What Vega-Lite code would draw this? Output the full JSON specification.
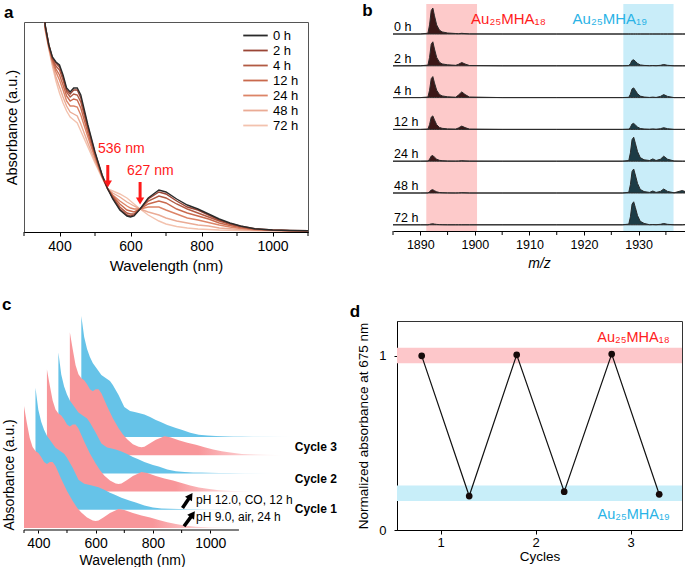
{
"$schema": "https://vega.github.io/schema/vega-lite/v6.json",
"background": "white",
"padding": {"left": 2, "top": 2, "right": 0, "bottom": 0},
"spacing": 21,
"config": {
  "font": "Liberation Sans",
  "view": {"stroke": null},
  "axis": {"grid": false, "domainColor": "#000", "tickColor": "#000", "labelColor": "#000", "titleColor": "#000", "titleFontWeight": "normal", "labelFont": "Liberation Sans", "titleFont": "Liberation Sans"},
  "title": {"font": "Liberation Sans", "fontWeight": "bold", "fontSize": 17, "anchor": "start", "color": "#000"}
},
"datasets": {
  "specA": [
{"t":"72 h","w":350,"a":240},{"t":"72 h","w":360,"a":200},{"t":"72 h","w":370,"a":182},{"t":"72 h","w":380,"a":165},{"t":"72 h","w":390,"a":150},{"t":"72 h","w":400,"a":138},{"t":"72 h","w":410,"a":128},{"t":"72 h","w":420,"a":120},{"t":"72 h","w":430,"a":114},{"t":"72 h","w":440,"a":111},{"t":"72 h","w":450,"a":108},{"t":"72 h","w":460,"a":100},{"t":"72 h","w":480,"a":84},{"t":"72 h","w":500,"a":68},{"t":"72 h","w":520,"a":53},{"t":"72 h","w":536,"a":42},{"t":"72 h","w":550,"a":40},{"t":"72 h","w":570,"a":37},{"t":"72 h","w":590,"a":33},{"t":"72 h","w":600,"a":30},{"t":"72 h","w":610,"a":27},{"t":"72 h","w":627,"a":22},{"t":"72 h","w":650,"a":16},{"t":"72 h","w":680,"a":10},{"t":"72 h","w":700,"a":7},{"t":"72 h","w":730,"a":4.5},{"t":"72 h","w":760,"a":3},{"t":"72 h","w":790,"a":2},{"t":"72 h","w":820,"a":1.5},{"t":"72 h","w":850,"a":1},{"t":"72 h","w":880,"a":0.8},{"t":"72 h","w":910,"a":0.5},{"t":"72 h","w":950,"a":0.3},{"t":"72 h","w":1000,"a":0.2},{"t":"72 h","w":1050,"a":0.2},{"t":"72 h","w":1100,"a":0.3},
{"t":"48 h","w":350,"a":242},{"t":"48 h","w":360,"a":201},{"t":"48 h","w":370,"a":183},{"t":"48 h","w":380,"a":167},{"t":"48 h","w":390,"a":154},{"t":"48 h","w":400,"a":144},{"t":"48 h","w":410,"a":134},{"t":"48 h","w":420,"a":125},{"t":"48 h","w":430,"a":119},{"t":"48 h","w":440,"a":117},{"t":"48 h","w":450,"a":115},{"t":"48 h","w":460,"a":107},{"t":"48 h","w":480,"a":88},{"t":"48 h","w":500,"a":70},{"t":"48 h","w":520,"a":54},{"t":"48 h","w":536,"a":42},{"t":"48 h","w":550,"a":38},{"t":"48 h","w":570,"a":34},{"t":"48 h","w":590,"a":29},{"t":"48 h","w":600,"a":27},{"t":"48 h","w":610,"a":25},{"t":"48 h","w":627,"a":22},{"t":"48 h","w":650,"a":19},{"t":"48 h","w":680,"a":16},{"t":"48 h","w":700,"a":13},{"t":"48 h","w":730,"a":10},{"t":"48 h","w":760,"a":8},{"t":"48 h","w":790,"a":6},{"t":"48 h","w":820,"a":5},{"t":"48 h","w":850,"a":3},{"t":"48 h","w":880,"a":2.2},{"t":"48 h","w":910,"a":1.4},{"t":"48 h","w":950,"a":0.7},{"t":"48 h","w":1000,"a":0.4},{"t":"48 h","w":1050,"a":0.3},{"t":"48 h","w":1100,"a":0.3},
{"t":"24 h","w":350,"a":244},{"t":"24 h","w":360,"a":202},{"t":"24 h","w":370,"a":184},{"t":"24 h","w":380,"a":169},{"t":"24 h","w":390,"a":159},{"t":"24 h","w":400,"a":151},{"t":"24 h","w":410,"a":141},{"t":"24 h","w":420,"a":130},{"t":"24 h","w":430,"a":125},{"t":"24 h","w":440,"a":125},{"t":"24 h","w":450,"a":124},{"t":"24 h","w":460,"a":116},{"t":"24 h","w":480,"a":94},{"t":"24 h","w":500,"a":73},{"t":"24 h","w":520,"a":54},{"t":"24 h","w":536,"a":42},{"t":"24 h","w":550,"a":36},{"t":"24 h","w":570,"a":30},{"t":"24 h","w":590,"a":25},{"t":"24 h","w":600,"a":23},{"t":"24 h","w":610,"a":22},{"t":"24 h","w":627,"a":22},{"t":"24 h","w":650,"a":24},{"t":"24 h","w":680,"a":24},{"t":"24 h","w":700,"a":21},{"t":"24 h","w":730,"a":17},{"t":"24 h","w":760,"a":13},{"t":"24 h","w":790,"a":11},{"t":"24 h","w":820,"a":8.5},{"t":"24 h","w":850,"a":6},{"t":"24 h","w":880,"a":4},{"t":"24 h","w":910,"a":2.5},{"t":"24 h","w":950,"a":1.2},{"t":"24 h","w":1000,"a":0.6},{"t":"24 h","w":1050,"a":0.3},{"t":"24 h","w":1100,"a":0.3},
{"t":"12 h","w":350,"a":246},{"t":"12 h","w":360,"a":203},{"t":"12 h","w":370,"a":185},{"t":"12 h","w":380,"a":171},{"t":"12 h","w":390,"a":162},{"t":"12 h","w":400,"a":156},{"t":"12 h","w":410,"a":146},{"t":"12 h","w":420,"a":135},{"t":"12 h","w":430,"a":130},{"t":"12 h","w":440,"a":132},{"t":"12 h","w":450,"a":131},{"t":"12 h","w":460,"a":123},{"t":"12 h","w":480,"a":98},{"t":"12 h","w":500,"a":75},{"t":"12 h","w":520,"a":55},{"t":"12 h","w":536,"a":42},{"t":"12 h","w":550,"a":35},{"t":"12 h","w":570,"a":27},{"t":"12 h","w":590,"a":21},{"t":"12 h","w":600,"a":20},{"t":"12 h","w":610,"a":19},{"t":"12 h","w":627,"a":22},{"t":"12 h","w":650,"a":27},{"t":"12 h","w":680,"a":30},{"t":"12 h","w":700,"a":28},{"t":"12 h","w":730,"a":22},{"t":"12 h","w":760,"a":18},{"t":"12 h","w":790,"a":15},{"t":"12 h","w":820,"a":12},{"t":"12 h","w":850,"a":8},{"t":"12 h","w":880,"a":5.5},{"t":"12 h","w":910,"a":3.4},{"t":"12 h","w":950,"a":1.6},{"t":"12 h","w":1000,"a":0.8},{"t":"12 h","w":1050,"a":0.4},{"t":"12 h","w":1100,"a":0.3},
{"t":"4 h","w":350,"a":248},{"t":"4 h","w":360,"a":204},{"t":"4 h","w":370,"a":185},{"t":"4 h","w":380,"a":172},{"t":"4 h","w":390,"a":165},{"t":"4 h","w":400,"a":161},{"t":"4 h","w":410,"a":151},{"t":"4 h","w":420,"a":139},{"t":"4 h","w":430,"a":134},{"t":"4 h","w":440,"a":137},{"t":"4 h","w":450,"a":136},{"t":"4 h","w":460,"a":129},{"t":"4 h","w":480,"a":102},{"t":"4 h","w":500,"a":77},{"t":"4 h","w":520,"a":55},{"t":"4 h","w":536,"a":42},{"t":"4 h","w":550,"a":34},{"t":"4 h","w":570,"a":24},{"t":"4 h","w":590,"a":18},{"t":"4 h","w":600,"a":17},{"t":"4 h","w":610,"a":17},{"t":"4 h","w":627,"a":22},{"t":"4 h","w":650,"a":30},{"t":"4 h","w":680,"a":35},{"t":"4 h","w":700,"a":33},{"t":"4 h","w":730,"a":27},{"t":"4 h","w":760,"a":22},{"t":"4 h","w":790,"a":18},{"t":"4 h","w":820,"a":14},{"t":"4 h","w":850,"a":10},{"t":"4 h","w":880,"a":6.6},{"t":"4 h","w":910,"a":4.1},{"t":"4 h","w":950,"a":1.9},{"t":"4 h","w":1000,"a":0.9},{"t":"4 h","w":1050,"a":0.4},{"t":"4 h","w":1100,"a":0.3},
{"t":"2 h","w":350,"a":249},{"t":"2 h","w":360,"a":205},{"t":"2 h","w":370,"a":186},{"t":"2 h","w":380,"a":173},{"t":"2 h","w":390,"a":168},{"t":"2 h","w":400,"a":164},{"t":"2 h","w":410,"a":154},{"t":"2 h","w":420,"a":141},{"t":"2 h","w":430,"a":137},{"t":"2 h","w":440,"a":141},{"t":"2 h","w":450,"a":141},{"t":"2 h","w":460,"a":133},{"t":"2 h","w":480,"a":104},{"t":"2 h","w":500,"a":78},{"t":"2 h","w":520,"a":56},{"t":"2 h","w":536,"a":42},{"t":"2 h","w":550,"a":33},{"t":"2 h","w":570,"a":22},{"t":"2 h","w":590,"a":16},{"t":"2 h","w":600,"a":15},{"t":"2 h","w":610,"a":16},{"t":"2 h","w":627,"a":22},{"t":"2 h","w":650,"a":32},{"t":"2 h","w":680,"a":39},{"t":"2 h","w":700,"a":37},{"t":"2 h","w":730,"a":30},{"t":"2 h","w":760,"a":24},{"t":"2 h","w":790,"a":21},{"t":"2 h","w":820,"a":16},{"t":"2 h","w":850,"a":11},{"t":"2 h","w":880,"a":7.5},{"t":"2 h","w":910,"a":4.7},{"t":"2 h","w":950,"a":2.2},{"t":"2 h","w":1000,"a":1},{"t":"2 h","w":1050,"a":0.5},{"t":"2 h","w":1100,"a":0.3},
{"t":"0 h","w":350,"a":250},{"t":"0 h","w":360,"a":205},{"t":"0 h","w":370,"a":186},{"t":"0 h","w":380,"a":174},{"t":"0 h","w":390,"a":169},{"t":"0 h","w":400,"a":166},{"t":"0 h","w":410,"a":156},{"t":"0 h","w":420,"a":143},{"t":"0 h","w":430,"a":139},{"t":"0 h","w":440,"a":143},{"t":"0 h","w":450,"a":143},{"t":"0 h","w":460,"a":136},{"t":"0 h","w":480,"a":106},{"t":"0 h","w":500,"a":79},{"t":"0 h","w":520,"a":56},{"t":"0 h","w":536,"a":42},{"t":"0 h","w":550,"a":32},{"t":"0 h","w":570,"a":21},{"t":"0 h","w":590,"a":15},{"t":"0 h","w":600,"a":14},{"t":"0 h","w":610,"a":15},{"t":"0 h","w":627,"a":22},{"t":"0 h","w":650,"a":33},{"t":"0 h","w":680,"a":41},{"t":"0 h","w":700,"a":39},{"t":"0 h","w":730,"a":32},{"t":"0 h","w":760,"a":26},{"t":"0 h","w":790,"a":22},{"t":"0 h","w":820,"a":17},{"t":"0 h","w":850,"a":12},{"t":"0 h","w":880,"a":8},{"t":"0 h","w":910,"a":5},{"t":"0 h","w":950,"a":2.3},{"t":"0 h","w":1000,"a":1},{"t":"0 h","w":1050,"a":0.5},{"t":"0 h","w":1100,"a":0.3}
  ],
  "ms": [
{"t":"0 h","m":1885,"i":0},{"t":"0 h","m":1890,"i":0},{"t":"0 h","m":1891.4,"i":0.8},{"t":"0 h","m":1891.7,"i":9.1},{"t":"0 h","m":1892,"i":23.4},{"t":"0 h","m":1892.3,"i":26},{"t":"0 h","m":1892.6,"i":18.2},{"t":"0 h","m":1893,"i":9.1},{"t":"0 h","m":1893.5,"i":3.9},{"t":"0 h","m":1894,"i":2.1},{"t":"0 h","m":1895,"i":1},{"t":"0 h","m":1896.5,"i":0.5},{"t":"0 h","m":1897,"i":0.3},{"t":"0 h","m":1897.6,"i":0.7},{"t":"0 h","m":1898.2,"i":0.4},{"t":"0 h","m":1899,"i":0.1},{"t":"0 h","m":1905,"i":0},{"t":"0 h","m":1915,"i":0},{"t":"0 h","m":1927,"i":0},{"t":"0 h","m":1928.2,"i":0},{"t":"0 h","m":1928.5,"i":0},{"t":"0 h","m":1928.8,"i":0},{"t":"0 h","m":1929.1,"i":0},{"t":"0 h","m":1929.4,"i":0},{"t":"0 h","m":1929.8,"i":0},{"t":"0 h","m":1930.3,"i":0},{"t":"0 h","m":1931,"i":0},{"t":"0 h","m":1932,"i":0},{"t":"0 h","m":1932.6,"i":0},{"t":"0 h","m":1933.2,"i":0},{"t":"0 h","m":1934,"i":0},{"t":"0 h","m":1934.6,"i":0},{"t":"0 h","m":1935.3,"i":0},{"t":"0 h","m":1936.5,"i":0},{"t":"0 h","m":1938,"i":0},{"t":"0 h","m":1938.5,"i":0},
{"t":"2 h","m":1885,"i":0},{"t":"2 h","m":1890,"i":0},{"t":"2 h","m":1891.4,"i":0.7},{"t":"2 h","m":1891.7,"i":8.4},{"t":"2 h","m":1892,"i":21.6},{"t":"2 h","m":1892.3,"i":24},{"t":"2 h","m":1892.6,"i":16.8},{"t":"2 h","m":1893,"i":8.4},{"t":"2 h","m":1893.5,"i":3.6},{"t":"2 h","m":1894,"i":1.9},{"t":"2 h","m":1895,"i":1},{"t":"2 h","m":1896.5,"i":0.5},{"t":"2 h","m":1897,"i":1.5},{"t":"2 h","m":1897.6,"i":3.3},{"t":"2 h","m":1898.2,"i":1.8},{"t":"2 h","m":1899,"i":0.3},{"t":"2 h","m":1905,"i":0},{"t":"2 h","m":1915,"i":0},{"t":"2 h","m":1927,"i":0},{"t":"2 h","m":1928.2,"i":0.2},{"t":"2 h","m":1928.5,"i":2.1},{"t":"2 h","m":1928.8,"i":5.4},{"t":"2 h","m":1929.1,"i":6},{"t":"2 h","m":1929.4,"i":4.5},{"t":"2 h","m":1929.8,"i":2.4},{"t":"2 h","m":1930.3,"i":0.9},{"t":"2 h","m":1931,"i":0.4},{"t":"2 h","m":1932,"i":0.1},{"t":"2 h","m":1932.6,"i":0.3},{"t":"2 h","m":1933.2,"i":0.1},{"t":"2 h","m":1934,"i":0.5},{"t":"2 h","m":1934.6,"i":1.3},{"t":"2 h","m":1935.3,"i":0.5},{"t":"2 h","m":1936.5,"i":0},{"t":"2 h","m":1938,"i":0},{"t":"2 h","m":1938.5,"i":0},
{"t":"4 h","m":1885,"i":0},{"t":"4 h","m":1890,"i":0},{"t":"4 h","m":1891.4,"i":0.6},{"t":"4 h","m":1891.7,"i":7.4},{"t":"4 h","m":1892,"i":18.9},{"t":"4 h","m":1892.3,"i":21},{"t":"4 h","m":1892.6,"i":14.7},{"t":"4 h","m":1893,"i":7.4},{"t":"4 h","m":1893.5,"i":3.2},{"t":"4 h","m":1894,"i":1.7},{"t":"4 h","m":1895,"i":0.8},{"t":"4 h","m":1896.5,"i":0.4},{"t":"4 h","m":1897,"i":2.6},{"t":"4 h","m":1897.6,"i":5.7},{"t":"4 h","m":1898.2,"i":3.1},{"t":"4 h","m":1899,"i":0.6},{"t":"4 h","m":1905,"i":0},{"t":"4 h","m":1915,"i":0},{"t":"4 h","m":1927,"i":0},{"t":"4 h","m":1928.2,"i":0.3},{"t":"4 h","m":1928.5,"i":3.4},{"t":"4 h","m":1928.8,"i":8.7},{"t":"4 h","m":1929.1,"i":9.7},{"t":"4 h","m":1929.4,"i":7.3},{"t":"4 h","m":1929.8,"i":3.9},{"t":"4 h","m":1930.3,"i":1.5},{"t":"4 h","m":1931,"i":0.6},{"t":"4 h","m":1932,"i":0.15},{"t":"4 h","m":1932.6,"i":0.5},{"t":"4 h","m":1933.2,"i":0.15},{"t":"4 h","m":1934,"i":1.2},{"t":"4 h","m":1934.6,"i":3},{"t":"4 h","m":1935.3,"i":1.2},{"t":"4 h","m":1936.5,"i":0},{"t":"4 h","m":1938,"i":0},{"t":"4 h","m":1938.5,"i":0},
{"t":"12 h","m":1885,"i":0},{"t":"12 h","m":1890,"i":0},{"t":"12 h","m":1891.4,"i":0.4},{"t":"12 h","m":1891.7,"i":4.7},{"t":"12 h","m":1892,"i":12.2},{"t":"12 h","m":1892.3,"i":13.5},{"t":"12 h","m":1892.6,"i":9.5},{"t":"12 h","m":1893,"i":4.7},{"t":"12 h","m":1893.5,"i":2},{"t":"12 h","m":1894,"i":1.1},{"t":"12 h","m":1895,"i":0.5},{"t":"12 h","m":1896.5,"i":0.3},{"t":"12 h","m":1897,"i":1.5},{"t":"12 h","m":1897.6,"i":3.3},{"t":"12 h","m":1898.2,"i":1.8},{"t":"12 h","m":1899,"i":0.3},{"t":"12 h","m":1905,"i":0},{"t":"12 h","m":1915,"i":0},{"t":"12 h","m":1927,"i":0},{"t":"12 h","m":1928.2,"i":0.2},{"t":"12 h","m":1928.5,"i":2.1},{"t":"12 h","m":1928.8,"i":5.4},{"t":"12 h","m":1929.1,"i":6},{"t":"12 h","m":1929.4,"i":4.5},{"t":"12 h","m":1929.8,"i":2.4},{"t":"12 h","m":1930.3,"i":0.9},{"t":"12 h","m":1931,"i":0.4},{"t":"12 h","m":1932,"i":0.15},{"t":"12 h","m":1932.6,"i":0.5},{"t":"12 h","m":1933.2,"i":0.15},{"t":"12 h","m":1934,"i":0.7},{"t":"12 h","m":1934.6,"i":1.7},{"t":"12 h","m":1935.3,"i":0.7},{"t":"12 h","m":1936.5,"i":0},{"t":"12 h","m":1938,"i":0},{"t":"12 h","m":1938.5,"i":0},
{"t":"24 h","m":1885,"i":0},{"t":"24 h","m":1890,"i":0},{"t":"24 h","m":1891.4,"i":0.2},{"t":"24 h","m":1891.7,"i":2},{"t":"24 h","m":1892,"i":5.1},{"t":"24 h","m":1892.3,"i":5.7},{"t":"24 h","m":1892.6,"i":4},{"t":"24 h","m":1893,"i":2},{"t":"24 h","m":1893.5,"i":0.9},{"t":"24 h","m":1894,"i":0.5},{"t":"24 h","m":1895,"i":0.2},{"t":"24 h","m":1896.5,"i":0.1},{"t":"24 h","m":1897,"i":0.2},{"t":"24 h","m":1897.6,"i":0.5},{"t":"24 h","m":1898.2,"i":0.3},{"t":"24 h","m":1899,"i":0.1},{"t":"24 h","m":1905,"i":0},{"t":"24 h","m":1915,"i":0},{"t":"24 h","m":1927,"i":0},{"t":"24 h","m":1928.2,"i":0.7},{"t":"24 h","m":1928.5,"i":8.4},{"t":"24 h","m":1928.8,"i":21.6},{"t":"24 h","m":1929.1,"i":24},{"t":"24 h","m":1929.4,"i":18},{"t":"24 h","m":1929.8,"i":9.6},{"t":"24 h","m":1930.3,"i":3.6},{"t":"24 h","m":1931,"i":1.4},{"t":"24 h","m":1932,"i":0.7},{"t":"24 h","m":1932.6,"i":2.3},{"t":"24 h","m":1933.2,"i":0.7},{"t":"24 h","m":1934,"i":2},{"t":"24 h","m":1934.6,"i":5},{"t":"24 h","m":1935.3,"i":2},{"t":"24 h","m":1936.5,"i":0.2},{"t":"24 h","m":1938,"i":0},{"t":"24 h","m":1938.5,"i":0},
{"t":"48 h","m":1885,"i":0},{"t":"48 h","m":1890,"i":0},{"t":"48 h","m":1891.4,"i":0.1},{"t":"48 h","m":1891.7,"i":1.2},{"t":"48 h","m":1892,"i":3},{"t":"48 h","m":1892.3,"i":3.3},{"t":"48 h","m":1892.6,"i":2.3},{"t":"48 h","m":1893,"i":1.2},{"t":"48 h","m":1893.5,"i":0.5},{"t":"48 h","m":1894,"i":0.3},{"t":"48 h","m":1895,"i":0.1},{"t":"48 h","m":1896.5,"i":0},{"t":"48 h","m":1897,"i":0.1},{"t":"48 h","m":1897.6,"i":0.3},{"t":"48 h","m":1898.2,"i":0.2},{"t":"48 h","m":1899,"i":0},{"t":"48 h","m":1905,"i":0},{"t":"48 h","m":1915,"i":0},{"t":"48 h","m":1927,"i":0},{"t":"48 h","m":1928.2,"i":0.7},{"t":"48 h","m":1928.5,"i":8.4},{"t":"48 h","m":1928.8,"i":21.6},{"t":"48 h","m":1929.1,"i":24},{"t":"48 h","m":1929.4,"i":18},{"t":"48 h","m":1929.8,"i":9.6},{"t":"48 h","m":1930.3,"i":3.6},{"t":"48 h","m":1931,"i":1.4},{"t":"48 h","m":1932,"i":0.6},{"t":"48 h","m":1932.6,"i":2},{"t":"48 h","m":1933.2,"i":0.6},{"t":"48 h","m":1934,"i":1.6},{"t":"48 h","m":1934.6,"i":4},{"t":"48 h","m":1935.3,"i":1.6},{"t":"48 h","m":1936.5,"i":0.2},{"t":"48 h","m":1938,"i":2.5},{"t":"48 h","m":1938.5,"i":1.5},
{"t":"72 h","m":1885,"i":0},{"t":"72 h","m":1890,"i":0},{"t":"72 h","m":1891.4,"i":0},{"t":"72 h","m":1891.7,"i":0.4},{"t":"72 h","m":1892,"i":0.9},{"t":"72 h","m":1892.3,"i":1},{"t":"72 h","m":1892.6,"i":0.7},{"t":"72 h","m":1893,"i":0.4},{"t":"72 h","m":1893.5,"i":0.2},{"t":"72 h","m":1894,"i":0.1},{"t":"72 h","m":1895,"i":0},{"t":"72 h","m":1896.5,"i":0},{"t":"72 h","m":1897,"i":0},{"t":"72 h","m":1897.6,"i":0},{"t":"72 h","m":1898.2,"i":0},{"t":"72 h","m":1899,"i":0},{"t":"72 h","m":1905,"i":0},{"t":"72 h","m":1915,"i":0},{"t":"72 h","m":1927,"i":0},{"t":"72 h","m":1928.2,"i":0.7},{"t":"72 h","m":1928.5,"i":8},{"t":"72 h","m":1928.8,"i":20.7},{"t":"72 h","m":1929.1,"i":23},{"t":"72 h","m":1929.4,"i":17.3},{"t":"72 h","m":1929.8,"i":9.2},{"t":"72 h","m":1930.3,"i":3.5},{"t":"72 h","m":1931,"i":1.4},{"t":"72 h","m":1932,"i":0.1},{"t":"72 h","m":1932.6,"i":0.3},{"t":"72 h","m":1933.2,"i":0.1},{"t":"72 h","m":1934,"i":0.5},{"t":"72 h","m":1934.6,"i":1.3},{"t":"72 h","m":1935.3,"i":0.5},{"t":"72 h","m":1936.5,"i":0},{"t":"72 h","m":1938,"i":0},{"t":"72 h","m":1938.5,"i":0.3}
  ],
  "wf": [
{"s":"P1","w":350,"a":122},{"s":"P1","w":360,"a":105},{"s":"P1","w":370,"a":90},{"s":"P1","w":380,"a":81},{"s":"P1","w":390,"a":77},{"s":"P1","w":400,"a":75},{"s":"P1","w":410,"a":71},{"s":"P1","w":420,"a":66},{"s":"P1","w":430,"a":64},{"s":"P1","w":440,"a":66},{"s":"P1","w":450,"a":66},{"s":"P1","w":460,"a":62},{"s":"P1","w":480,"a":49},{"s":"P1","w":500,"a":37},{"s":"P1","w":520,"a":27},{"s":"P1","w":536,"a":20},{"s":"P1","w":550,"a":15.5},{"s":"P1","w":570,"a":10.5},{"s":"P1","w":590,"a":7.5},{"s":"P1","w":600,"a":7},{"s":"P1","w":610,"a":7.5},{"s":"P1","w":627,"a":10.5},{"s":"P1","w":650,"a":15},{"s":"P1","w":680,"a":19},{"s":"P1","w":700,"a":18},{"s":"P1","w":730,"a":15},{"s":"P1","w":760,"a":12.5},{"s":"P1","w":790,"a":10.5},{"s":"P1","w":820,"a":8},{"s":"P1","w":850,"a":5.8},{"s":"P1","w":880,"a":4},{"s":"P1","w":910,"a":2.6},{"s":"P1","w":950,"a":1.3},{"s":"P1","w":1000,"a":0.6},{"s":"P1","w":1100,"a":0},
{"s":"B1","w":350,"a":122},{"s":"B1","w":360,"a":100},{"s":"B1","w":370,"a":88},{"s":"B1","w":380,"a":80},{"s":"B1","w":390,"a":74},{"s":"B1","w":400,"a":70},{"s":"B1","w":410,"a":66},{"s":"B1","w":420,"a":62},{"s":"B1","w":430,"a":60},{"s":"B1","w":440,"a":58},{"s":"B1","w":450,"a":56},{"s":"B1","w":460,"a":52},{"s":"B1","w":480,"a":42},{"s":"B1","w":500,"a":30},{"s":"B1","w":520,"a":26},{"s":"B1","w":536,"a":25},{"s":"B1","w":550,"a":24},{"s":"B1","w":570,"a":22.5},{"s":"B1","w":590,"a":20},{"s":"B1","w":600,"a":18.5},{"s":"B1","w":610,"a":17},{"s":"B1","w":627,"a":15},{"s":"B1","w":650,"a":12},{"s":"B1","w":680,"a":9},{"s":"B1","w":700,"a":7.3},{"s":"B1","w":730,"a":4.2},{"s":"B1","w":760,"a":2.2},{"s":"B1","w":790,"a":1.4},{"s":"B1","w":820,"a":1},{"s":"B1","w":850,"a":0.8},{"s":"B1","w":880,"a":0.6},{"s":"B1","w":910,"a":0.5},{"s":"B1","w":950,"a":0.3},{"s":"B1","w":1000,"a":0.2},{"s":"B1","w":1100,"a":0},
{"s":"P2","w":350,"a":122},{"s":"P2","w":360,"a":106},{"s":"P2","w":370,"a":91},{"s":"P2","w":380,"a":82},{"s":"P2","w":390,"a":78},{"s":"P2","w":400,"a":76},{"s":"P2","w":410,"a":72},{"s":"P2","w":420,"a":67},{"s":"P2","w":430,"a":65},{"s":"P2","w":440,"a":67},{"s":"P2","w":450,"a":67},{"s":"P2","w":460,"a":63},{"s":"P2","w":480,"a":50},{"s":"P2","w":500,"a":38},{"s":"P2","w":520,"a":28},{"s":"P2","w":536,"a":21},{"s":"P2","w":550,"a":16},{"s":"P2","w":570,"a":11},{"s":"P2","w":590,"a":8},{"s":"P2","w":600,"a":7.5},{"s":"P2","w":610,"a":8},{"s":"P2","w":627,"a":11},{"s":"P2","w":650,"a":15.5},{"s":"P2","w":680,"a":19.5},{"s":"P2","w":700,"a":18.5},{"s":"P2","w":730,"a":15.5},{"s":"P2","w":760,"a":13},{"s":"P2","w":790,"a":11},{"s":"P2","w":820,"a":8.5},{"s":"P2","w":850,"a":6},{"s":"P2","w":880,"a":4.2},{"s":"P2","w":910,"a":2.8},{"s":"P2","w":950,"a":1.4},{"s":"P2","w":1000,"a":0.6},{"s":"P2","w":1100,"a":0},
{"s":"B2","w":350,"a":121},{"s":"B2","w":360,"a":99},{"s":"B2","w":370,"a":87},{"s":"B2","w":380,"a":79},{"s":"B2","w":390,"a":73},{"s":"B2","w":400,"a":69},{"s":"B2","w":410,"a":65},{"s":"B2","w":420,"a":61},{"s":"B2","w":430,"a":59},{"s":"B2","w":440,"a":57},{"s":"B2","w":450,"a":55},{"s":"B2","w":460,"a":51},{"s":"B2","w":480,"a":41},{"s":"B2","w":500,"a":30},{"s":"B2","w":520,"a":26},{"s":"B2","w":536,"a":25},{"s":"B2","w":550,"a":24},{"s":"B2","w":570,"a":22},{"s":"B2","w":590,"a":19.5},{"s":"B2","w":600,"a":18},{"s":"B2","w":610,"a":16.5},{"s":"B2","w":627,"a":14.5},{"s":"B2","w":650,"a":11.5},{"s":"B2","w":680,"a":8.5},{"s":"B2","w":700,"a":7},{"s":"B2","w":730,"a":4},{"s":"B2","w":760,"a":2.1},{"s":"B2","w":790,"a":1.3},{"s":"B2","w":820,"a":1},{"s":"B2","w":850,"a":0.8},{"s":"B2","w":880,"a":0.6},{"s":"B2","w":910,"a":0.5},{"s":"B2","w":950,"a":0.3},{"s":"B2","w":1000,"a":0.2},{"s":"B2","w":1100,"a":0},
{"s":"P3","w":350,"a":123},{"s":"P3","w":360,"a":106},{"s":"P3","w":370,"a":90},{"s":"P3","w":380,"a":81},{"s":"P3","w":390,"a":77},{"s":"P3","w":400,"a":75},{"s":"P3","w":410,"a":71},{"s":"P3","w":420,"a":66},{"s":"P3","w":430,"a":64},{"s":"P3","w":440,"a":66},{"s":"P3","w":450,"a":66},{"s":"P3","w":460,"a":62},{"s":"P3","w":480,"a":49},{"s":"P3","w":500,"a":37},{"s":"P3","w":520,"a":27},{"s":"P3","w":536,"a":20.5},{"s":"P3","w":550,"a":16},{"s":"P3","w":570,"a":11},{"s":"P3","w":590,"a":8.5},{"s":"P3","w":600,"a":8},{"s":"P3","w":610,"a":8.5},{"s":"P3","w":627,"a":11.5},{"s":"P3","w":650,"a":15.5},{"s":"P3","w":680,"a":19},{"s":"P3","w":700,"a":18},{"s":"P3","w":730,"a":15},{"s":"P3","w":760,"a":12.5},{"s":"P3","w":790,"a":10.5},{"s":"P3","w":820,"a":8},{"s":"P3","w":850,"a":5.8},{"s":"P3","w":880,"a":4},{"s":"P3","w":910,"a":2.6},{"s":"P3","w":950,"a":1.3},{"s":"P3","w":1000,"a":0.6},{"s":"P3","w":1100,"a":0},
{"s":"B3","w":350,"a":121},{"s":"B3","w":360,"a":100},{"s":"B3","w":370,"a":88},{"s":"B3","w":380,"a":80},{"s":"B3","w":390,"a":74},{"s":"B3","w":400,"a":70},{"s":"B3","w":410,"a":66},{"s":"B3","w":420,"a":62},{"s":"B3","w":430,"a":60},{"s":"B3","w":440,"a":58},{"s":"B3","w":450,"a":56},{"s":"B3","w":460,"a":52},{"s":"B3","w":480,"a":42},{"s":"B3","w":500,"a":30},{"s":"B3","w":520,"a":26},{"s":"B3","w":536,"a":25},{"s":"B3","w":550,"a":24},{"s":"B3","w":570,"a":22.5},{"s":"B3","w":590,"a":20},{"s":"B3","w":600,"a":18.5},{"s":"B3","w":610,"a":17},{"s":"B3","w":627,"a":15},{"s":"B3","w":650,"a":12},{"s":"B3","w":680,"a":9},{"s":"B3","w":700,"a":7.3},{"s":"B3","w":730,"a":4.2},{"s":"B3","w":760,"a":2.2},{"s":"B3","w":790,"a":1.4},{"s":"B3","w":820,"a":1},{"s":"B3","w":850,"a":0.8},{"s":"B3","w":880,"a":0.6},{"s":"B3","w":910,"a":0.5},{"s":"B3","w":950,"a":0.3},{"s":"B3","w":1000,"a":0.2},{"s":"B3","w":1100,"a":0}
  ],
  "cyc": [
{"c":0.8,"v":1.0},{"c":1.3,"v":0.195},{"c":1.8,"v":1.006},{"c":2.3,"v":0.22},{"c":2.8,"v":1.01},{"c":3.3,"v":0.205}
  ]
},
"vconcat": [
 {"hconcat": [
  {
   "width": 284, "height": 210,
   "view": {"stroke": "#555"},
   "title": {"text": "a", "frame": "bounds", "offset": 0},
   "layer": [
    {"data": {"name": "specA"}, "mark": {"type": "line", "strokeWidth": 1.4, "clip": true},
     "encoding": {
      "x": {"field": "w", "type": "quantitative", "scale": {"domain": [300, 1100], "nice": false, "zero": false},
            "axis": {"title": "Wavelength (nm)", "values": [400, 600, 800, 1000], "format": "d", "tickSize": 4, "labelFontSize": 14, "titleFontSize": 15, "labelPadding": 3, "titlePadding": 5}},
      "y": {"field": "a", "type": "quantitative", "scale": {"domain": [-1, 209], "nice": false, "zero": false},
            "axis": {"title": "Absorbance (a.u.)", "labels": false, "ticks": false, "domain": false, "titleFontSize": 14.5, "titlePadding": 5}},
      "color": {"field": "t", "type": "nominal",
            "scale": {"domain": ["0 h","2 h","4 h","12 h","24 h","48 h","72 h"], "range": ["#2a2a2a","#9a4535","#b25a43","#c9694d","#dc8467","#eaab95","#f3c2ae"]},
            "legend": {"title": null, "orient": "none", "legendX": 224, "legendY": 6, "padding": 0, "symbolType": "M-2,0H2", "symbolSize": 150, "symbolStrokeWidth": 1.8, "labelFontSize": 13, "rowPadding": 0, "labelOffset": 10}}
     }},
    {"data": {"values": [{"v": 300}, {"v": 500}, {"v": 700}, {"v": 900}, {"v": 1100}]}, "mark": {"type": "rule", "color": "#000", "strokeWidth": 1}, "encoding": {"x": {"field": "v", "type": "quantitative"}, "y": {"datum": -1}, "y2": {"datum": -5}}},
    {"data": {"values": [{}]}, "mark": {"type": "rule", "color": "#ff1a1a", "strokeWidth": 3}, "encoding": {"x": {"datum": 536}, "y": {"datum": 66}, "y2": {"datum": 50}}},
    {"data": {"values": [{}]}, "mark": {"type": "point", "shape": "triangle-down", "filled": true, "color": "#ff1a1a", "size": 70, "opacity": 1}, "encoding": {"x": {"datum": 536}, "y": {"datum": 47}}},
    {"data": {"values": [{}]}, "mark": {"type": "rule", "color": "#ff1a1a", "strokeWidth": 3}, "encoding": {"x": {"datum": 627}, "y": {"datum": 49}, "y2": {"datum": 33}}},
    {"data": {"values": [{}]}, "mark": {"type": "point", "shape": "triangle-down", "filled": true, "color": "#ff1a1a", "size": 70, "opacity": 1}, "encoding": {"x": {"datum": 627}, "y": {"datum": 30}}},
    {"data": {"values": [{}]}, "mark": {"type": "text", "text": "536 nm", "color": "#ff1a1a", "fontSize": 14}, "encoding": {"x": {"datum": 574}, "y": {"datum": 82}}},
    {"data": {"values": [{}]}, "mark": {"type": "text", "text": "627 nm", "color": "#ff1a1a", "fontSize": 14}, "encoding": {"x": {"datum": 656}, "y": {"datum": 60}}}
   ]
  },
  {
   "width": 292, "height": 209,
   "title": {"text": "b", "orient": "left", "anchor": "end", "angle": 0, "align": "right", "baseline": "top", "offset": 8, "dy": -1},
   "resolve": {"scale": {"y": "independent"}},
   "layer": [
    {"data": {"values": [{}]}, "layer": [
     {"mark": {"type": "rect", "color": "#fdcaca"}, "encoding": {"x": {"datum": 1891.1}, "x2": {"datum": 1900.4}, "y": {"datum": 0, "scale": {"domain": [0, 209], "nice": false, "zero": false}, "axis": null}, "y2": {"datum": 227}}},
     {"mark": {"type": "rect", "color": "#c9edf9"}, "encoding": {"x": {"datum": 1927.2}, "x2": {"datum": 1936.4}, "y": {"datum": 0}, "y2": {"datum": 227}}},
     {"mark": {"type": "text", "text": "Au₂₅MHA₁₈", "align": "left", "baseline": "alphabetic", "fontSize": 15, "color": "#ff1c1c"}, "encoding": {"x": {"datum": 1899.3}, "y": {"datum": 207.3}}},
     {"mark": {"type": "text", "text": "Au₂₅MHA₁₉", "align": "left", "baseline": "alphabetic", "fontSize": 15, "color": "#2ab3e6"}, "encoding": {"x": {"datum": 1917.9}, "y": {"datum": 207.3}}},
     {"data": {"values": [{"v": 1885}, {"v": 1895}, {"v": 1905}, {"v": 1915}, {"v": 1925}, {"v": 1935}]}, "mark": {"type": "rule", "color": "#000", "strokeWidth": 1}, "encoding": {"x": {"field": "v", "type": "quantitative"}, "y": {"datum": 0}, "y2": {"datum": -4}}}
    ]},
    {"data": {"name": "ms"}, "transform": [{"filter": "datum.t == '0 h'"}], "layer": [
     {"mark": {"type": "area", "stroke": "#2a2a2a", "strokeWidth": 1, "color": {"gradient": "linear", "x1": 0, "y1": 0, "x2": 1, "y2": 0, "stops": [{"offset": 0, "color": "#3b1717"}, {"offset": 0.56, "color": "#3b1717"}, {"offset": 0.56, "color": "#1d3c46"}, {"offset": 1, "color": "#1d3c46"}]}},
      "encoding": {
       "x": {"field": "m", "type": "quantitative", "scale": {"domain": [1885, 1938.5], "nice": false, "zero": false},
             "axis": {"title": "m/z", "titleFontStyle": "italic", "values": [1890, 1900, 1910, 1920, 1930], "format": "d", "tickSize": 4, "labelFontSize": 12.5, "titleFontSize": 14, "labelPadding": 3, "titlePadding": 6}},
       "y": {"field": "i", "type": "quantitative", "scale": {"domain": [-197, 12], "nice": false, "zero": false}, "axis": null}}},
     {"transform": [{"filter": "datum.m == 1885"}], "mark": {"type": "text", "align": "left", "baseline": "alphabetic", "fontSize": 12.5, "dx": 1, "dy": -3},
      "encoding": {"x": {"field": "m", "type": "quantitative"}, "y": {"datum": 0}, "text": {"field": "t"}}}
    ]},
    {"data": {"name": "ms"}, "transform": [{"filter": "datum.t == '2 h'"}], "layer": [
     {"mark": {"type": "area", "stroke": "#2a2a2a", "strokeWidth": 1, "color": {"gradient": "linear", "x1": 0, "y1": 0, "x2": 1, "y2": 0, "stops": [{"offset": 0, "color": "#3b1717"}, {"offset": 0.56, "color": "#3b1717"}, {"offset": 0.56, "color": "#1d3c46"}, {"offset": 1, "color": "#1d3c46"}]}},
      "encoding": {"x": {"field": "m", "type": "quantitative"}, "y": {"field": "i", "type": "quantitative", "scale": {"domain": [-165.2, 43.8], "nice": false, "zero": false}, "axis": null}}},
     {"transform": [{"filter": "datum.m == 1885"}], "mark": {"type": "text", "align": "left", "baseline": "alphabetic", "fontSize": 12.5, "dx": 1, "dy": -3},
      "encoding": {"x": {"field": "m", "type": "quantitative"}, "y": {"datum": 0}, "text": {"field": "t"}}}
    ]},
    {"data": {"name": "ms"}, "transform": [{"filter": "datum.t == '4 h'"}], "layer": [
     {"mark": {"type": "area", "stroke": "#2a2a2a", "strokeWidth": 1, "color": {"gradient": "linear", "x1": 0, "y1": 0, "x2": 1, "y2": 0, "stops": [{"offset": 0, "color": "#3b1717"}, {"offset": 0.56, "color": "#3b1717"}, {"offset": 0.56, "color": "#1d3c46"}, {"offset": 1, "color": "#1d3c46"}]}},
      "encoding": {"x": {"field": "m", "type": "quantitative"}, "y": {"field": "i", "type": "quantitative", "scale": {"domain": [-133.4, 75.6], "nice": false, "zero": false}, "axis": null}}},
     {"transform": [{"filter": "datum.m == 1885"}], "mark": {"type": "text", "align": "left", "baseline": "alphabetic", "fontSize": 12.5, "dx": 1, "dy": -3},
      "encoding": {"x": {"field": "m", "type": "quantitative"}, "y": {"datum": 0}, "text": {"field": "t"}}}
    ]},
    {"data": {"name": "ms"}, "transform": [{"filter": "datum.t == '12 h'"}], "layer": [
     {"mark": {"type": "area", "stroke": "#2a2a2a", "strokeWidth": 1, "color": {"gradient": "linear", "x1": 0, "y1": 0, "x2": 1, "y2": 0, "stops": [{"offset": 0, "color": "#3b1717"}, {"offset": 0.56, "color": "#3b1717"}, {"offset": 0.56, "color": "#1d3c46"}, {"offset": 1, "color": "#1d3c46"}]}},
      "encoding": {"x": {"field": "m", "type": "quantitative"}, "y": {"field": "i", "type": "quantitative", "scale": {"domain": [-101.6, 107.4], "nice": false, "zero": false}, "axis": null}}},
     {"transform": [{"filter": "datum.m == 1885"}], "mark": {"type": "text", "align": "left", "baseline": "alphabetic", "fontSize": 12.5, "dx": 1, "dy": -3},
      "encoding": {"x": {"field": "m", "type": "quantitative"}, "y": {"datum": 0}, "text": {"field": "t"}}}
    ]},
    {"data": {"name": "ms"}, "transform": [{"filter": "datum.t == '24 h'"}], "layer": [
     {"mark": {"type": "area", "stroke": "#2a2a2a", "strokeWidth": 1, "color": {"gradient": "linear", "x1": 0, "y1": 0, "x2": 1, "y2": 0, "stops": [{"offset": 0, "color": "#3b1717"}, {"offset": 0.56, "color": "#3b1717"}, {"offset": 0.56, "color": "#1d3c46"}, {"offset": 1, "color": "#1d3c46"}]}},
      "encoding": {"x": {"field": "m", "type": "quantitative"}, "y": {"field": "i", "type": "quantitative", "scale": {"domain": [-69.8, 139.2], "nice": false, "zero": false}, "axis": null}}},
     {"transform": [{"filter": "datum.m == 1885"}], "mark": {"type": "text", "align": "left", "baseline": "alphabetic", "fontSize": 12.5, "dx": 1, "dy": -3},
      "encoding": {"x": {"field": "m", "type": "quantitative"}, "y": {"datum": 0}, "text": {"field": "t"}}}
    ]},
    {"data": {"name": "ms"}, "transform": [{"filter": "datum.t == '48 h'"}], "layer": [
     {"mark": {"type": "area", "stroke": "#2a2a2a", "strokeWidth": 1, "color": {"gradient": "linear", "x1": 0, "y1": 0, "x2": 1, "y2": 0, "stops": [{"offset": 0, "color": "#3b1717"}, {"offset": 0.56, "color": "#3b1717"}, {"offset": 0.56, "color": "#1d3c46"}, {"offset": 1, "color": "#1d3c46"}]}},
      "encoding": {"x": {"field": "m", "type": "quantitative"}, "y": {"field": "i", "type": "quantitative", "scale": {"domain": [-38, 171], "nice": false, "zero": false}, "axis": null}}},
     {"transform": [{"filter": "datum.m == 1885"}], "mark": {"type": "text", "align": "left", "baseline": "alphabetic", "fontSize": 12.5, "dx": 1, "dy": -3},
      "encoding": {"x": {"field": "m", "type": "quantitative"}, "y": {"datum": 0}, "text": {"field": "t"}}}
    ]},
    {"data": {"name": "ms"}, "transform": [{"filter": "datum.t == '72 h'"}], "layer": [
     {"mark": {"type": "area", "stroke": "#2a2a2a", "strokeWidth": 1, "color": {"gradient": "linear", "x1": 0, "y1": 0, "x2": 1, "y2": 0, "stops": [{"offset": 0, "color": "#3b1717"}, {"offset": 0.56, "color": "#3b1717"}, {"offset": 0.56, "color": "#1d3c46"}, {"offset": 1, "color": "#1d3c46"}]}},
      "encoding": {"x": {"field": "m", "type": "quantitative"}, "y": {"field": "i", "type": "quantitative", "scale": {"domain": [-6.2, 202.8], "nice": false, "zero": false}, "axis": null}}},
     {"transform": [{"filter": "datum.m == 1885"}], "mark": {"type": "text", "align": "left", "baseline": "alphabetic", "fontSize": 12.5, "dx": 1, "dy": -3},
      "encoding": {"x": {"field": "m", "type": "quantitative"}, "y": {"datum": 0}, "text": {"field": "t"}}}
    ]}
   ]
  }
 ], "spacing": 53},
 {"hconcat": [
  {
   "width": 280, "height": 209,
   "title": {"text": "c", "frame": "bounds", "offset": 2},
   "resolve": {"scale": {"x": "independent", "y": "independent"}},
   "layer": [
    {"data": {"name": "wf"}, "transform": [{"filter": "datum.s == 'B3'"}],
     "mark": {"type": "area", "color": {"gradient": "linear", "x1": 0, "y1": 0, "x2": 1, "y2": 0, "stops": [{"offset": 0, "color": "#66c3e8"}, {"offset": 0.6, "color": "#66c3e8"}, {"offset": 1, "color": "#ffffff"}]}},
     "encoding": {"x": {"field": "w", "type": "quantitative", "scale": {"domain": [150, 1127], "nice": false, "zero": false}, "axis": null},
                  "y": {"field": "a", "type": "quantitative", "scale": {"domain": [-93, 116], "nice": false, "zero": false}, "axis": null}}},
    {"data": {"name": "wf"}, "transform": [{"filter": "datum.s == 'P3'"}],
     "mark": {"type": "area", "color": {"gradient": "linear", "x1": 0, "y1": 0, "x2": 1, "y2": 0, "stops": [{"offset": 0, "color": "#f8969a"}, {"offset": 0.6, "color": "#f8969a"}, {"offset": 1, "color": "#ffffff"}]}},
     "encoding": {"x": {"field": "w", "type": "quantitative", "scale": {"domain": [190, 1167], "nice": false, "zero": false}, "axis": null},
                  "y": {"field": "a", "type": "quantitative", "scale": {"domain": [-74.8, 134.2], "nice": false, "zero": false}, "axis": null}}},
    {"data": {"name": "wf"}, "transform": [{"filter": "datum.s == 'B2'"}],
     "mark": {"type": "area", "color": {"gradient": "linear", "x1": 0, "y1": 0, "x2": 1, "y2": 0, "stops": [{"offset": 0, "color": "#66c3e8"}, {"offset": 0.6, "color": "#66c3e8"}, {"offset": 1, "color": "#ffffff"}]}},
     "encoding": {"x": {"field": "w", "type": "quantitative", "scale": {"domain": [230, 1207], "nice": false, "zero": false}, "axis": null},
                  "y": {"field": "a", "type": "quantitative", "scale": {"domain": [-56.6, 152.4], "nice": false, "zero": false}, "axis": null}}},
    {"data": {"name": "wf"}, "transform": [{"filter": "datum.s == 'P2'"}],
     "mark": {"type": "area", "color": {"gradient": "linear", "x1": 0, "y1": 0, "x2": 1, "y2": 0, "stops": [{"offset": 0, "color": "#f8969a"}, {"offset": 0.6, "color": "#f8969a"}, {"offset": 1, "color": "#ffffff"}]}},
     "encoding": {"x": {"field": "w", "type": "quantitative", "scale": {"domain": [270, 1247], "nice": false, "zero": false}, "axis": null},
                  "y": {"field": "a", "type": "quantitative", "scale": {"domain": [-38.4, 170.6], "nice": false, "zero": false}, "axis": null}}},
    {"data": {"name": "wf"}, "transform": [{"filter": "datum.s == 'B1'"}],
     "mark": {"type": "area", "color": {"gradient": "linear", "x1": 0, "y1": 0, "x2": 1, "y2": 0, "stops": [{"offset": 0, "color": "#66c3e8"}, {"offset": 0.6, "color": "#66c3e8"}, {"offset": 1, "color": "#ffffff"}]}},
     "encoding": {"x": {"field": "w", "type": "quantitative", "scale": {"domain": [310, 1287], "nice": false, "zero": false}, "axis": null},
                  "y": {"field": "a", "type": "quantitative", "scale": {"domain": [-20.2, 188.8], "nice": false, "zero": false}, "axis": null}}},
    {"layer": [
     {"data": {"name": "wf"}, "transform": [{"filter": "datum.s == 'P1'"}],
      "mark": {"type": "area", "color": {"gradient": "linear", "x1": 0, "y1": 0, "x2": 1, "y2": 0, "stops": [{"offset": 0, "color": "#f8969a"}, {"offset": 0.6, "color": "#f8969a"}, {"offset": 1, "color": "#ffffff"}]}},
      "encoding": {"x": {"field": "w", "type": "quantitative", "scale": {"domain": [350, 1327], "nice": false, "zero": false},
                         "axis": {"title": "Wavelength (nm)", "values": [400, 600, 800, 1000], "format": "d", "domain": false, "tickSize": 3, "labelFontSize": 14, "titleFontSize": 14, "labelPadding": 3, "titlePadding": 3, "titleX": 108}},
                   "y": {"field": "a", "type": "quantitative", "scale": {"domain": [-2, 207], "nice": false, "zero": false},
                         "axis": {"title": "Absorbance (a.u.)", "labels": false, "ticks": false, "domain": false, "titleFontSize": 14, "titleAnchor": "start", "titlePadding": 8}}}},
     {"data": {"values": [{}]}, "mark": {"type": "rule", "color": "#000", "strokeWidth": 1}, "encoding": {"x": {"datum": 350}, "x2": {"datum": 1100}, "y": {"datum": -2}}},
     {"data": {"values": [{"v": 350}, {"v": 500}, {"v": 700}, {"v": 900}]}, "mark": {"type": "rule", "color": "#000", "strokeWidth": 1}, "encoding": {"x": {"field": "v", "type": "quantitative"}, "y": {"datum": -2}, "y2": {"datum": -5}}},
     {"data": {"values": [{}]}, "mark": {"type": "text", "text": "Cycle 3", "fontWeight": "bold", "fontSize": 12, "align": "left", "baseline": "middle"}, "encoding": {"x": {"datum": 1295}, "y": {"datum": 81}}},
     {"data": {"values": [{}]}, "mark": {"type": "text", "text": "Cycle 2", "fontWeight": "bold", "fontSize": 12, "align": "left", "baseline": "middle"}, "encoding": {"x": {"datum": 1295}, "y": {"datum": 49.3}}},
     {"data": {"values": [{}]}, "mark": {"type": "text", "text": "Cycle 1", "fontWeight": "bold", "fontSize": 12, "align": "left", "baseline": "middle"}, "encoding": {"x": {"datum": 1295}, "y": {"datum": 19}}},
     {"data": {"values": [{}]}, "mark": {"type": "text", "text": "pH 12.0, CO, 12 h", "fontSize": 12, "align": "left", "baseline": "middle"}, "encoding": {"x": {"datum": 950}, "y": {"datum": 28.3}}},
     {"data": {"values": [{}]}, "mark": {"type": "text", "text": "pH 9.0, air, 24 h", "fontSize": 12, "align": "left", "baseline": "middle"}, "encoding": {"x": {"datum": 950}, "y": {"datum": 10.7}}},
     {"data": {"values": [{}]}, "mark": {"type": "rule", "color": "#000", "strokeWidth": 3.5}, "encoding": {"x": {"datum": 903}, "y": {"datum": 20}, "x2": {"datum": 930.6}, "y2": {"datum": 31.7}}},
     {"data": {"values": [{}]}, "mark": {"type": "point", "shape": "triangle-up", "filled": true, "color": "#000", "size": 70, "opacity": 1, "angle": 34}, "encoding": {"x": {"datum": 931}, "y": {"datum": 32}}},
     {"data": {"values": [{}]}, "mark": {"type": "rule", "color": "#000", "strokeWidth": 3.5}, "encoding": {"x": {"datum": 908.3}, "y": {"datum": 1.7}, "x2": {"datum": 938.4}, "y2": {"datum": 13.4}}},
     {"data": {"values": [{}]}, "mark": {"type": "point", "shape": "triangle-up", "filled": true, "color": "#000", "size": 70, "opacity": 1, "angle": 35}, "encoding": {"x": {"datum": 938.8}, "y": {"datum": 13.7}}}
    ]}
   ]
  },
  {
   "width": 285, "height": 209,
   "view": {"stroke": "#333"},
   "title": {"text": "d", "frame": "bounds", "offset": 0, "dx": -7},
   "layer": [
    {"data": {"values": [{}]}, "mark": {"type": "rect", "color": "#fdc7ca"}, "encoding": {"y": {"datum": 0.958}, "y2": {"datum": 1.046}}},
    {"data": {"values": [{}]}, "mark": {"type": "rect", "color": "#c8eef9"}, "encoding": {"y": {"datum": 0.167}, "y2": {"datum": 0.256}}},
    {"data": {"name": "cyc"}, "mark": {"type": "line", "color": "#111", "strokeWidth": 1.2},
     "encoding": {
      "x": {"field": "c", "type": "quantitative", "scale": {"domain": [0.54, 3.54], "nice": false, "zero": false},
            "axis": {"title": "Cycles", "values": [1, 2, 3], "format": "d", "tickSize": 4, "labelFontSize": 13, "titleFontSize": 13.5, "labelPadding": 2, "titlePadding": 0}},
      "y": {"field": "v", "type": "quantitative", "scale": {"domain": [0, 1.2], "nice": false},
            "axis": {"title": "Normalized absorbance at 675 nm", "values": [0, 0.5, 1], "format": "d", "labelExpr": "datum.value == 0.5 ? '' : datum.label", "tickSize": 3, "labelFontSize": 13, "titleFontSize": 13.5, "labelPadding": 8, "titlePadding": 8, "labelFlush": false}}}},
    {"data": {"name": "cyc"}, "mark": {"type": "point", "filled": true, "color": "#150a0a", "size": 45, "opacity": 1},
     "encoding": {"x": {"field": "c", "type": "quantitative"}, "y": {"field": "v", "type": "quantitative"}}},
    {"data": {"values": [{}]}, "mark": {"type": "text", "text": "Au₂₅MHA₁₈", "color": "#ff2020", "fontSize": 14.5, "align": "right", "baseline": "middle"}, "encoding": {"x": {"datum": 3.41}, "y": {"datum": 1.105}}},
    {"data": {"values": [{}]}, "mark": {"type": "text", "text": "Au₂₅MHA₁₉", "color": "#2ab3e6", "fontSize": 14.5, "align": "right", "baseline": "middle"}, "encoding": {"x": {"datum": 3.41}, "y": {"datum": 0.088}}}
   ]
  }
 ], "spacing": 12}
]
}
